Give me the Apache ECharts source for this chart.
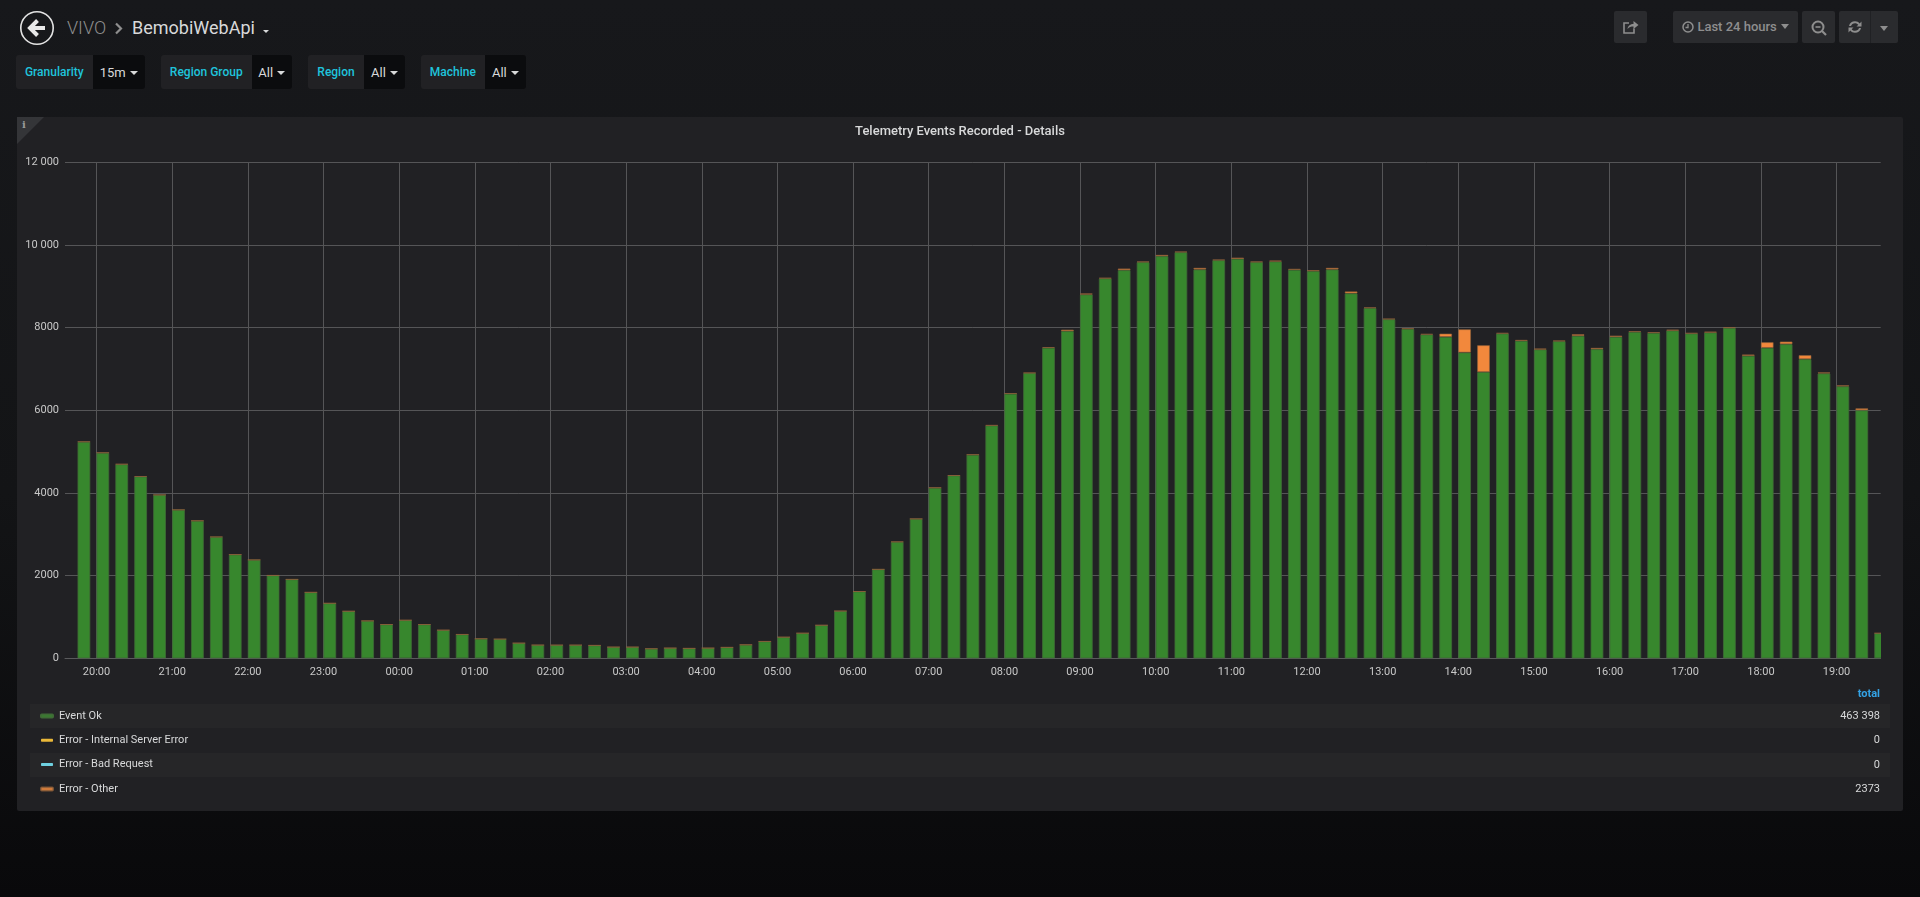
<!DOCTYPE html>
<html>
<head>
<meta charset="utf-8">
<title>Telemetry Events Recorded - Details</title>
<script src="https://cdn.jsdelivr.net/npm/echarts@6/dist/echarts.min.js"></script>
<style>
html,body{margin:0;padding:0;width:1920px;height:897px;overflow:hidden;font-family:Roboto,sans-serif;
background:linear-gradient(180deg,#17181b 0%,#131416 55%,#09090b 100%);}
.abs{position:absolute;box-sizing:border-box;white-space:nowrap;}
#panel{left:17px;top:117px;width:1886px;height:694px;background:#212124;border-radius:2px;}
#corner{left:17px;top:117px;width:0;height:0;border-top:27px solid #343538;border-right:27px solid transparent;}
#cornerI{left:22px;top:119px;font:bold 10px "DejaVu Serif",serif;color:#9a9a9a;}
#chart{left:0;top:0;width:1920px;height:897px;}
#edge{left:1881px;top:620px;width:10px;height:42px;background:#212124;}
.stripe{left:30px;width:1860px;height:24px;background:#262628;}
.total{right:40px;font-size:11px;color:#d8d9da;line-height:14px;}
.vlab,.vval{top:55px;height:34px;line-height:35px;text-align:center;}
.vlab{background:#212124;color:#1fc4dc;font-size:12px;font-weight:500;border-radius:3px 0 0 3px;}
.vval{background:#0b0c0e;color:#d8d9da;font-size:13px;border-radius:0 3px 3px 0;}
.caret{display:inline-block;width:0;height:0;border-left:4px solid transparent;border-right:4px solid transparent;border-top:4px solid #d8d9da;vertical-align:2px;margin-left:4px;}
.btn{top:11px;height:32px;background:#2a2b2e;border-radius:2px;color:#8e8e8e;text-align:center;line-height:31px;font-size:13px;font-weight:500;}
</style>
</head>
<body>
<div class="abs" id="panel"></div>
<div class="abs" id="corner"></div>
<div class="abs" id="cornerI">i</div>
<div id="stripes"></div>

<svg class="abs" style="left:19px;top:10px" width="36" height="36" viewBox="0 0 36 36">
<circle cx="18" cy="18" r="16.2" fill="none" stroke="#e4e4e4" stroke-width="1.6"/>
<path d="M18.5 10.5 L11 18 L18.5 25.5 M12 18 H26" fill="none" stroke="#e8e8e8" stroke-width="4"/>
</svg>
<div class="abs" style="left:67px;top:17px;font-size:18px;font-weight:300;color:#8e8e8e;line-height:22px">VIVO</div>
<svg class="abs" style="left:114px;top:22px" width="10" height="13" viewBox="0 0 10 13"><path d="M2 1.5 L7 6.5 L2 11.5" fill="none" stroke="#8e8e8e" stroke-width="2.2"/></svg>
<div class="abs" style="left:132px;top:17px;font-size:18px;color:#d8d9da;line-height:22px">BemobiWebApi</div>
<div class="abs" style="left:263px;top:30px;width:0;height:0;border-left:3.5px solid transparent;border-right:3.5px solid transparent;border-top:3.5px solid #d8d9da"></div>

<div id="vars"></div>

<div class="abs btn" style="left:1614px;width:33px">
<svg width="18" height="18" viewBox="0 0 18 18" style="margin-top:7px"><path d="M12 10.5V15H2V5H7" fill="none" stroke="#8e8e8e" stroke-width="1.6"/><path d="M5.5 11C6 7.5 8.5 6 11.5 6V3L16.5 7L11.5 11V8.5C9 8.5 7 9 5.5 11Z" fill="#8e8e8e"/></svg>
</div>
<div class="abs btn" style="left:1673px;width:125px">
<svg width="12" height="12" viewBox="0 0 12 12" style="vertical-align:-1.5px"><circle cx="6" cy="6" r="5" fill="none" stroke="#8e8e8e" stroke-width="1.5"/><path d="M6 3V6.5H3.5" fill="none" stroke="#8e8e8e" stroke-width="1.3"/></svg>
Last 24 hours<span class="caret" style="border-top-color:#8e8e8e;border-left-width:4.5px;border-right-width:4.5px;border-top-width:5px"></span>
</div>
<div class="abs btn" style="left:1802px;width:33px">
<svg width="18" height="18" viewBox="0 0 18 18" style="margin-top:8px"><circle cx="8" cy="8" r="5.5" fill="none" stroke="#8e8e8e" stroke-width="2"/><path d="M5.5 8H10.5" stroke="#8e8e8e" stroke-width="1.6"/><path d="M12 12L16 16" stroke="#8e8e8e" stroke-width="2.2"/></svg>
</div>
<div class="abs btn" style="left:1839px;width:59px"></div>
<div class="abs" style="left:1870px;top:11px;width:1px;height:32px;background:#202124"></div>
<svg class="abs" style="left:1847px;top:19px" width="16" height="16" viewBox="0 0 16 16"><path d="M2 7C2.5 4 5 2.2 8 2.2C10 2.2 11.5 3 12.7 4.4L14.5 2.6V7.6H9.5L11.3 5.8C10.5 4.8 9.4 4.2 8 4.2C6 4.2 4.5 5.3 4 7Z M14 9C13.5 12 11 13.8 8 13.8C6 13.8 4.5 13 3.3 11.6L1.5 13.4V8.4H6.5L4.7 10.2C5.5 11.2 6.6 11.8 8 11.8C10 11.8 11.5 10.7 12 9Z" fill="#8e8e8e"/></svg>
<div class="abs" style="left:1880px;top:26px;width:0;height:0;border-left:4.5px solid transparent;border-right:4.5px solid transparent;border-top:5px solid #8e8e8e"></div>

<div class="abs" id="chart"></div>
<div class="abs" id="edge"></div>
<div id="totals"></div>

<script>
// ----- data -----
const yTickLabels = {0:'0',2000:'2000',4000:'4000',6000:'6000',8000:'8000',10000:'10 000',12000:'12 000'};
const startTime = Date.UTC(2018,0,1,19,50);
// ECharts widens a time axis holding bars by half a bar on each side, so the
// requested range is narrower than the visible 19:35 -> 19:35 window.
const axisMin = Date.UTC(2018,0,1,19,40,2);
const axisMax = Date.UTC(2018,0,2,19,29,58);
const stepMs = 15*60*1000;

const eventOk = [
5237,4972,4692,4395,3954,3593,3328,2935,2510,2382,2005,1909,1596,1331,1139,906,
818,922,818,682,577,473,465,368,321,320,320,312,272,272,232,248,
240,248,264,328,408,512,608,800,1144,1616,2152,2815,3374,4125,
4420,4925,5630,6400,6900,7510,7915,8800,9190,9390,9584,9728,9824,9406,9630,9663,
9584,9600,9398,9366,9406,8828,8474,8201,7968,7831,7775,7398,6924,7855,7679,7470,
7671,7800,7478,7775,7896,7872,7928,7855,7880,7992,7318,7510,7599,7237,6892,6579,6000,607];

const errorInternal = new Array(eventOk.length).fill(0);
const errorBadRequest = new Array(eventOk.length).fill(0);

const errorOther = [
5,3,8,8,0,0,0,5,0,0,0,0,0,0,0,0,
0,0,0,0,0,0,0,0,0,0,0,0,0,0,0,0,
0,0,0,0,0,0,0,0,0,0,0,8,0,5,
5,5,10,10,10,16,37,27,14,40,16,32,16,40,17,32,
16,23,24,24,40,48,16,16,16,16,80,562,650,16,24,24,
16,40,32,32,16,16,24,16,24,16,32,137,64,97,24,24,48,0];

const seriesNames = ['Event Ok','Error - Internal Server Error','Error - Bad Request','Error - Other'];
const seriesColors = ['#37872d','#eab839','#6ed0e0','#f2883c'];
const seriesTotals = ['463 398','0','0','2373'];
const panelTitle = 'Telemetry Events Recorded - Details';
const variables = [['Granularity','15m',16,92.5,145],['Region Group','All',161,251.5,292],['Region','All',308,364,405],['Machine','All',421,484.7,526]];

// ----- dashboard chrome -----
const rowY = [704,728.3,752.7,777];
document.getElementById('stripes').innerHTML = [0,2].map(i=>`<div class="abs stripe" style="top:${rowY[i]}px"></div>`).join('');
document.getElementById('totals').innerHTML =
 `<div class="abs total" style="top:687px;color:#33a2e5;font-weight:700">total</div>` +
 seriesTotals.map((t,i)=>`<div class="abs total" style="top:${rowY[i]+5}px">${t}</div>`).join('');
document.getElementById('vars').innerHTML = variables.map(v=>
 `<div class="abs vlab" style="left:${v[2]}px;width:${v[3]-v[2]}px">${v[0]}</div>`+
 `<div class="abs vval" style="left:${v[3]}px;width:${v[4]-v[3]}px">${v[1]}<span class="caret"></span></div>`).join('');

// ----- chart -----
const times = eventOk.map((_,i)=>startTime+i*stepMs);
const pairs = arr => arr.map((v,i)=>[times[i],v]);
const chart = echarts.init(document.getElementById('chart'),null,{renderer:'canvas'});
const values = [eventOk,errorInternal,errorBadRequest,errorOther];
const borders = ['#3f6b36','#eab839','#6ed0e0','rgba(150,100,60,0.75)'];
const seriesList = seriesNames.map((name,i)=>({
  name, type:'bar', stack:'total', barWidth:12.7, data:pairs(values[i]),
  animation:false, silent:true,
  itemStyle:{color:seriesColors[i],borderColor:borders[i],borderWidth:(i===0||i===3)?0.8:0}
}));
chart.setOption({
  backgroundColor:'transparent',
  useUTC:true,
  animation:false,
  textStyle:{fontFamily:'Roboto'},
  title:{text:panelTitle,left:'center',top:124,
    textStyle:{color:'#d8d9da',fontSize:13,fontWeight:500,fontFamily:'Roboto',lineHeight:16},padding:0},
  legend:{orient:'vertical',left:40,top:709,itemWidth:12,itemHeight:3,itemGap:10.3,icon:'roundRect',
    selectedMode:false,padding:0,data:seriesNames,
    textStyle:{color:'#d8d9da',fontSize:11,fontFamily:'Roboto',lineHeight:14,padding:[0,0,0,1]}},
  grid:{left:65,right:39.3,top:162.3,bottom:238.7,containLabel:false},
  xAxis:{type:'time',min:axisMin,max:axisMax,minInterval:3600000,maxInterval:3600000,
    axisLine:{show:true,lineStyle:{color:'#5a5a5c',width:1}},
    axisTick:{show:false},
    axisLabel:{color:'#c8c8c8',fontSize:11,fontFamily:'Roboto',margin:8,hideOverlap:false,
      showMinLabel:false,showMaxLabel:false,formatter:'{HH}:{mm}'},
    splitLine:{show:true,showMinLine:false,showMaxLine:false,lineStyle:{color:'#555557',width:1}},
    minorTick:{show:false},minorSplitLine:{show:false}},
  yAxis:{type:'value',min:0,max:12000,interval:2000,
    axisLine:{show:false},axisTick:{show:false},
    axisLabel:{color:'#c8c8c8',fontSize:11,fontFamily:'Roboto',margin:6,
      formatter:v=>yTickLabels[v]},
    splitLine:{show:true,lineStyle:{color:'#555557',width:1}}},
  series:seriesList
});
</script>
</body>
</html>
